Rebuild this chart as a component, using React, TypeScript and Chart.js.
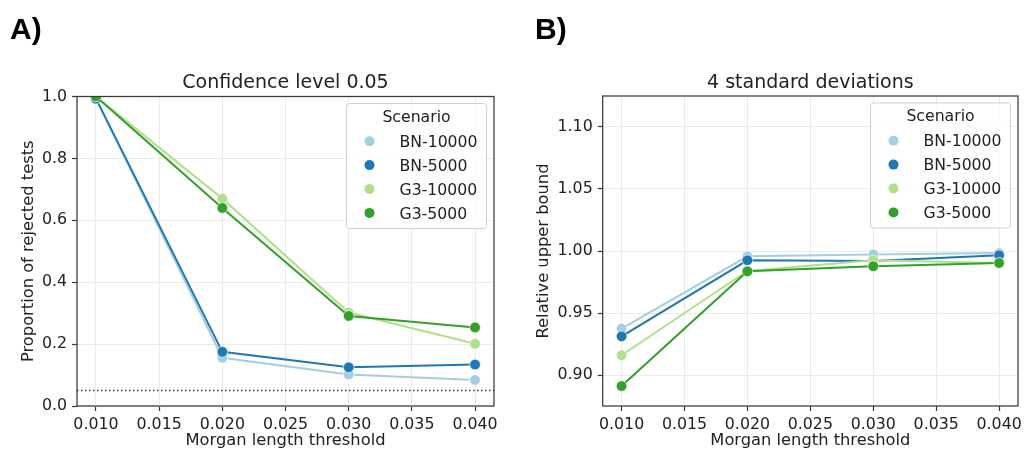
import { useEffect, useRef } from 'react';
import { Chart, registerables } from 'chart.js';

Chart.register(...registerables);

// Morgan length thresholds (x values) and the four simulation scenarios
const thresholds = [0.01, 0.02, 0.03, 0.04];
const scenarios = ['BN-10000', 'BN-5000', 'G3-10000', 'G3-5000'];
const scenarioColors = ['#a6cee3', '#1f78b4', '#b2df8a', '#33a02c'];

// Panel A: proportion of rejected tests at confidence level 0.05
const rejectedBN10000 = [0.993, 0.156, 0.102, 0.084];
const rejectedBN5000 = [0.993, 0.175, 0.125, 0.134];
const rejectedG310000 = [1.0, 0.67, 0.302, 0.201];
const rejectedG35000 = [1.0, 0.64, 0.291, 0.254];

// Panel B: relative upper bound with 4 standard deviations
const boundBN10000 = [0.9374, 0.9957, 0.9971, 0.9984];
const boundBN5000 = [0.9312, 0.9925, 0.992, 0.9965];
const boundG310000 = [0.9159, 0.9839, 0.9925, 0.9903];
const boundG35000 = [0.8911, 0.9836, 0.9877, 0.9903];

// Axis ticks
const xTicks = [0.01, 0.015, 0.02, 0.025, 0.03, 0.035, 0.04];
const rejectedTicks = [0, 0.2, 0.4, 0.6, 0.8, 1.0];
const boundTicks = [0.9, 0.95, 1.0, 1.05, 1.1];
const significanceLevel = 0.05;

const FONT = '"DejaVu Sans", sans-serif';
const TEXT = '#222222';
const SPINE = '#3a3a3a';
const GRID = '#ebebeb';

type PanelSpec = {
  title: string;
  yTitle: string;
  yMin: number;
  yMax: number;
  yTicks: number[];
  yDecimals: number;
  series: number[][];
  yAxisWidth: number;
  padRight: number;
  padTop: number;
  yTitlePad: number;
  refLine?: number;
};

const panelDecor = {
  id: 'panelDecor',
  afterDatasetsDraw(chart: any, _args: any, opts: any) {
    const { ctx, chartArea } = chart;
    if (opts.refLine !== undefined) {
      const y = chart.scales.y.getPixelForValue(opts.refLine);
      ctx.save();
      ctx.strokeStyle = '#333333';
      ctx.lineWidth = 1.5;
      ctx.setLineDash([1.5, 2.5]);
      ctx.beginPath();
      ctx.moveTo(chartArea.left, y);
      ctx.lineTo(chartArea.right, y);
      ctx.stroke();
      ctx.restore();
    }
  },
  afterDraw(chart: any, _args: any, opts: any) {
    const { ctx, chartArea } = chart;
    const { left, right, top, bottom } = chartArea;
    ctx.save();
    // frame
    ctx.strokeStyle = SPINE;
    ctx.lineWidth = 1.25;
    ctx.strokeRect(left, top, right - left, bottom - top);

    // title
    ctx.fillStyle = TEXT;
    ctx.font = `19px ${FONT}`;
    ctx.textAlign = 'center';
    ctx.textBaseline = 'alphabetic';
    ctx.fillText(opts.title, (left + right) / 2, top - 8.2);

    // legend
    const bw = 140;
    const bh = 125;
    const bx = right - 7.5 - bw;
    const by = top + 7;
    ctx.beginPath();
    ctx.roundRect(bx, by, bw, bh, 3);
    ctx.fillStyle = 'rgba(255,255,255,0.8)';
    ctx.fill();
    ctx.strokeStyle = '#d0d0d0';
    ctx.lineWidth = 1;
    ctx.stroke();

    ctx.fillStyle = TEXT;
    ctx.font = `15.7px ${FONT}`;
    ctx.textAlign = 'center';
    ctx.fillText('Scenario', bx + 70, by + 18.4);
    ctx.textAlign = 'left';
    chart.data.datasets.forEach((ds: any, i: number) => {
      const cy = by + 37.7 + i * 23.9;
      ctx.beginPath();
      ctx.arc(bx + 23, cy, 5, 0, Math.PI * 2);
      ctx.fillStyle = ds.borderColor;
      ctx.fill();
      ctx.fillStyle = TEXT;
      ctx.fillText(ds.label, bx + 53, cy + 5.6);
    });
    ctx.restore();
  },
};

function Panel({ spec }: { spec: PanelSpec }) {
  const ref = useRef<HTMLCanvasElement>(null);
  useEffect(() => {
    if (!ref.current) return;
    const chart = new Chart(ref.current, {
      type: 'line',
      data: {
        datasets: scenarios.map((name, i) => ({
          label: name,
          data: thresholds.map((x, j) => ({ x, y: spec.series[i][j] })),
          borderColor: scenarioColors[i],
          backgroundColor: scenarioColors[i],
          pointBackgroundColor: scenarioColors[i],
          pointBorderColor: '#ffffff',
          pointBorderWidth: 0.6,
          pointRadius: 5.3,
          borderWidth: 2,
          order: scenarios.length - 1 - i,
          clip: 0,
        })),
      },
      plugins: [panelDecor],
      options: {
        responsive: false,
        animation: false,
        devicePixelRatio: 1,
        layout: { padding: { left: 0, right: spec.padRight, top: spec.padTop, bottom: 0 } },
        plugins: {
          legend: { display: false },
          tooltip: { enabled: false },
          title: { display: false },
          panelDecor: { title: spec.title, refLine: spec.refLine },
        } as any,
        scales: {
          x: {
            type: 'linear',
            min: 0.0085,
            max: 0.0415,
            afterBuildTicks: (s: any) => {
              s.ticks = xTicks.map((v) => ({ value: v }));
            },
            afterFit: (s: any) => {
              s.height = 43;
            },
            ticks: {
              callback: (v: any) => Number(v).toFixed(3),
              font: { family: FONT, size: 15.8 },
              color: TEXT,
              padding: 4,
              maxRotation: 0,
              autoSkip: false,
            },
            grid: { color: GRID, lineWidth: 1, tickColor: SPINE, tickLength: 5, tickWidth: 1.2 },
            border: { display: false },
            title: {
              display: true,
              text: 'Morgan length threshold',
              font: { family: FONT, size: 16.3, lineHeight: 0.95 },
              color: TEXT,
              padding: { top: 0, bottom: 0 },
            },
          },
          y: {
            type: 'linear',
            min: spec.yMin,
            max: spec.yMax,
            afterBuildTicks: (s: any) => {
              s.ticks = spec.yTicks.map((v) => ({ value: v }));
            },
            afterFit: (s: any) => {
              s.width = spec.yAxisWidth;
            },
            ticks: {
              callback: (v: any) => Number(v).toFixed(spec.yDecimals),
              font: { family: FONT, size: 15.8 },
              color: TEXT,
              padding: 5,
              autoSkip: false,
            },
            grid: { color: GRID, lineWidth: 1, tickColor: SPINE, tickLength: 5, tickWidth: 1.2 },
            border: { display: false },
            title: {
              display: true,
              text: spec.yTitle,
              font: { family: FONT, size: 16.3, lineHeight: 1.2 },
              color: TEXT,
              padding: { top: spec.yTitlePad, bottom: 0 },
            },
          },
        },
      },
    } as any);
    return () => chart.destroy();
  }, [spec]);
  return <canvas ref={ref} width={513} height={449} style={{ display: 'block', width: 513, height: 449 }} />;
}

const panelA: PanelSpec = {
  title: 'Confidence level 0.05',
  yTitle: 'Proportion of rejected tests',
  yMin: 0,
  yMax: 1,
  yTicks: rejectedTicks,
  yDecimals: 1,
  series: [rejectedBN10000, rejectedBN5000, rejectedG310000, rejectedG35000],
  yAxisWidth: 77,
  padRight: 19,
  padTop: 96.5,
  yTitlePad: 18.6,
  refLine: significanceLevel,
};

const panelB: PanelSpec = {
  title: '4 standard deviations',
  yTitle: 'Relative upper bound',
  yMin: 0.875,
  yMax: 1.125,
  yTicks: boundTicks,
  yDecimals: 2,
  series: [boundBN10000, boundBN5000, boundG310000, boundG35000],
  yAxisWidth: 89.7,
  padRight: 6,
  padTop: 96,
  yTitlePad: 20.6,
};

const tagStyle: React.CSSProperties = {
  position: 'absolute',
  top: 13.9,
  font: 'bold 30px "Liberation Sans", Arial, sans-serif',
  lineHeight: '30px',
  color: '#000',
};

export default function App() {
  return (
    <div style={{ position: 'fixed', left: 0, top: 0, width: 1026, height: 449, background: '#fff', overflow: 'hidden' }}>
      <div style={{ position: 'absolute', left: 0, top: 0 }}>
        <Panel spec={panelA} />
      </div>
      <div style={{ position: 'absolute', left: 513, top: 0 }}>
        <Panel spec={panelB} />
      </div>
      <div style={{ ...tagStyle, left: 10 }}>A)</div>
      <div style={{ ...tagStyle, left: 535 }}>B)</div>
    </div>
  );
}
